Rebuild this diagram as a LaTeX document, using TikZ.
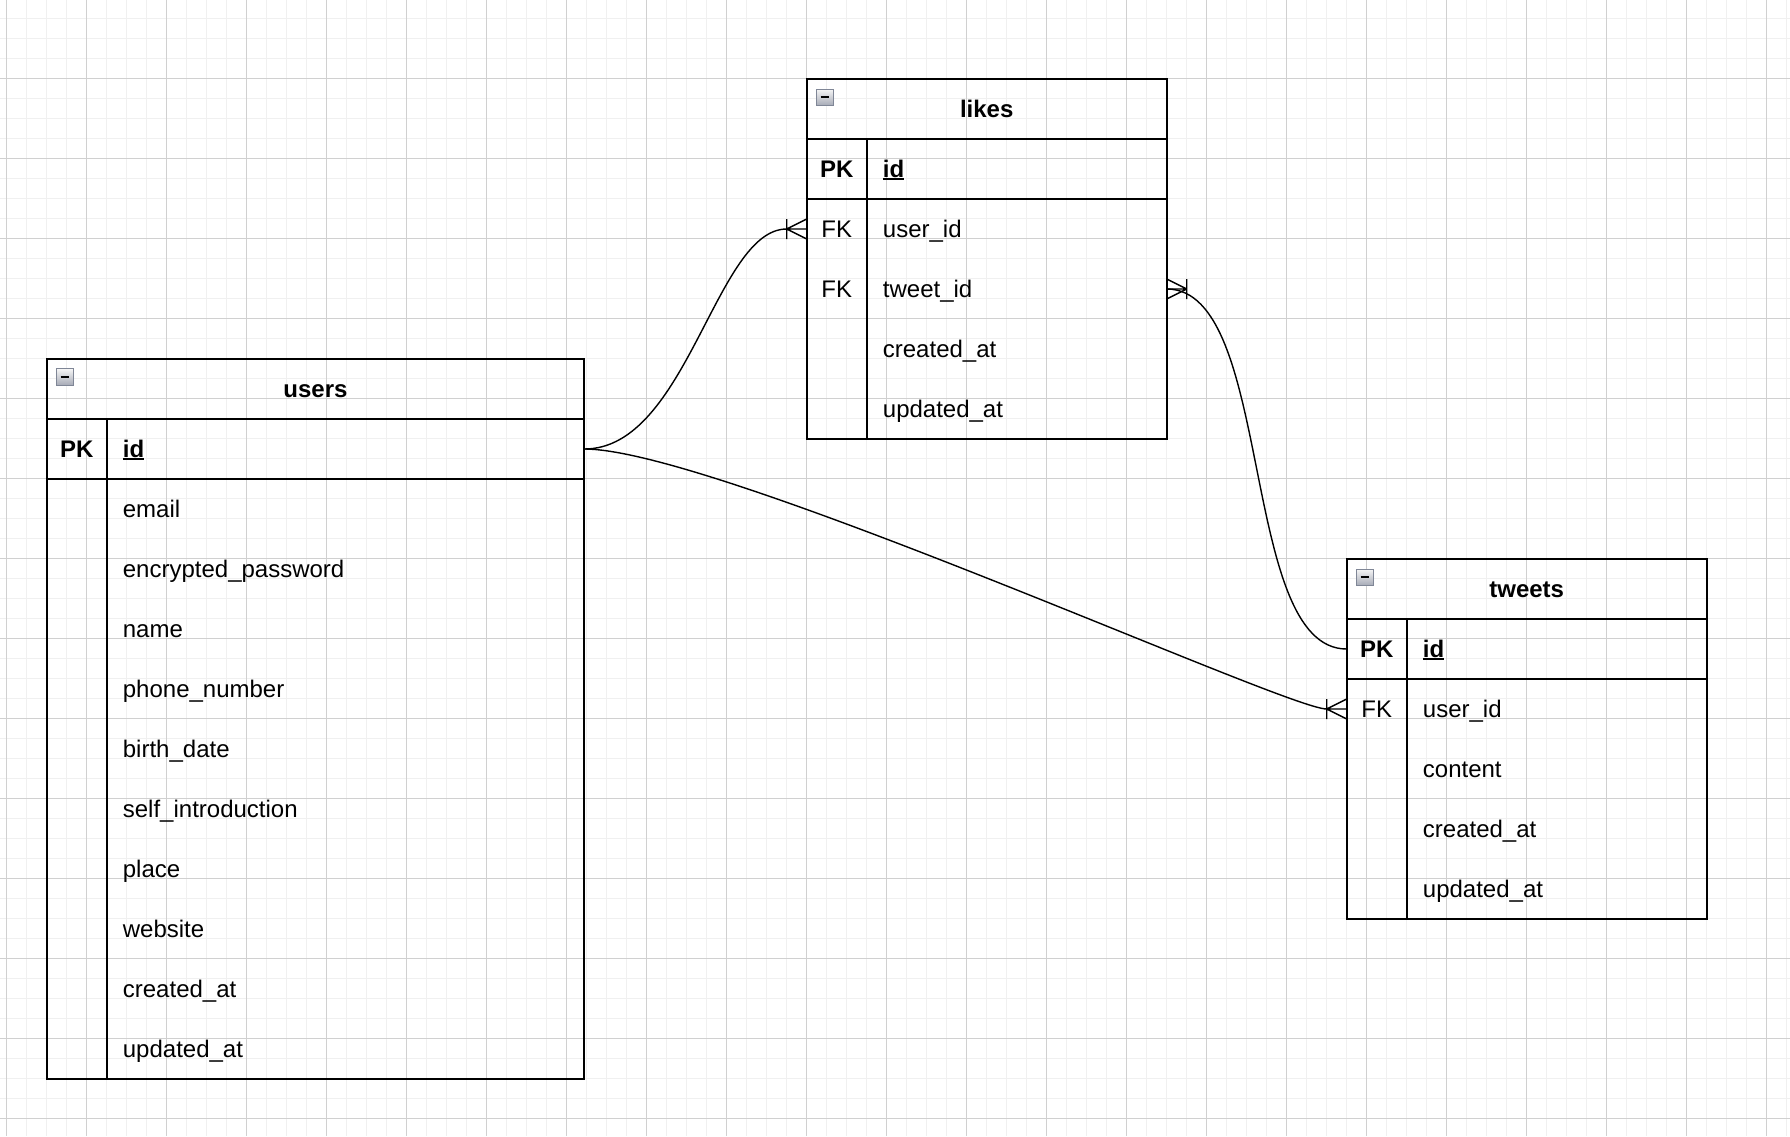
\documentclass[tikz,border=0pt]{standalone}
\usepackage{fontspec}
\setmainfont{Liberation Sans}
\usetikzlibrary{calc}
\definecolor{gridminor}{HTML}{F0F0F0}
\definecolor{gridmajor}{HTML}{D0D0D0}
\definecolor{iconborder}{HTML}{7F8696}
\definecolor{icontop}{HTML}{F6F6F6}
\definecolor{iconbot}{HTML}{A6AAB6}
\newcommand\keyul[1]{\setbox0\hbox{#1}\rlap{\rule[-3pt]{\wd0}{1.9pt}}\box0}
\newcommand\crowsfoot[2]{%
  \draw[rel] ($(#1)+(#2,0)$) -- ($(#1)+(0,-10)$)
             ($(#1)+(#2,0)$) -- (#1)
             ($(#1)+(#2,0)$) -- ($(#1)+(0,10)$)
             ($(#1)+(#2,-10)$) -- ($(#1)+(#2,10)$);}
\newcommand\collapseicon[2]{%
  \shade[top color=icontop, bottom color=iconbot, draw=iconborder, line width=1pt]
    (#1,#2) rectangle +(16.5,16.5);
  \draw[line width=1.9pt] ($(#1,#2)+(4,8.25)$) -- ($(#1,#2)+(12.5,8.25)$);}
\begin{document}
\begin{tikzpicture}[x=1pt,y=-1pt,
  frame/.style={draw=black, line width=2pt, inner sep=0pt, outer sep=0pt, anchor=north west, minimum width=#1},
  sepline/.style={draw=black, line width=2pt},
  rowarea/.style={minimum width=#1, minimum height=60pt, inner sep=0pt, outer sep=0pt, anchor=north west},
  txt/.style={inner sep=0pt, yshift=-5.6pt, font=\fontsize{24}{28}\selectfont},
  fld/.style={txt, anchor=mid west},
  keylbl/.style={txt, anchor=mid},
  keyfld/.style={txt, anchor=mid west, font=\fontsize{24}{28}\selectfont\bfseries},
  pklbl/.style={txt, anchor=mid, font=\fontsize{24}{28}\selectfont\bfseries},
  ttl/.style={txt, anchor=mid, font=\fontsize{24}{28}\selectfont\bfseries},
  rel/.style={draw=black, line width=1.4pt},
  ]
% background and bounding box
\fill[white] (0,0) rectangle (1790,1136);
\useasboundingbox (0,0) rectangle (1790,1136);
% grid
\foreach \gx in {6.7,26.7,...,1790} \draw[gridminor, line width=1.3pt] (\gx,0) -- (\gx,1136);
\foreach \gy in {18.3,38.3,...,1136} \draw[gridminor, line width=1.3pt] (0,\gy) -- (1790,\gy);
\foreach \gx in {6.7,86.7,...,1790} \draw[gridmajor, line width=0.9pt] (\gx,0) -- (\gx,1136);
\foreach \gy in {78.3,158.3,...,1136} \draw[gridmajor, line width=0.9pt] (0,\gy) -- (1790,\gy);

% ================= users =================
\node[frame=537.6pt, minimum height=720pt] (users) at (46.7,359) {};
\draw[sepline] (46.7,419) -- (584.3,419) (46.7,479) -- (584.3,479) (106.7,419) -- (106.7,1079);
\collapseicon{56.7}{368.7}
\node[ttl] (users-title) at (315.5,389) {users};
\node[rowarea=537.6pt] (users-pk) at (46.7,419) {};
\node[pklbl] (users-pk-k) at (76.7,449) {PK};
\node[keyfld] (users-pk-n) at (122.7,449) {\keyul{id}};
\foreach \t [count=\i] in {email,encrypted\_password,name,phone\_number,birth\_date,self\_introduction,place,website,created\_at,updated\_at}{
  \node[rowarea=537.6pt] (users-f\i) at (46.7,{479+60*(\i-1)}) {};
  \node[fld] (users-t\i) at (122.7,{509+60*(\i-1)}) {\t};
}

% ================= likes =================
\node[frame=360pt, minimum height=360pt] (likes) at (806.7,79) {};
\draw[sepline] (806.7,139) -- (1166.7,139) (806.7,199) -- (1166.7,199) (866.7,139) -- (866.7,439);
\collapseicon{816.7}{89}
\node[ttl] (likes-title) at (986.7,109) {likes};
\node[rowarea=360pt] (likes-pk) at (806.7,139) {};
\node[pklbl] (likes-pk-k) at (836.7,169) {PK};
\node[keyfld] (likes-pk-n) at (882.7,169) {\keyul{id}};
\foreach \t/\k [count=\i] in {user\_id/FK,tweet\_id/FK,created\_at/,updated\_at/}{
  \node[rowarea=360pt] (likes-f\i) at (806.7,{199+60*(\i-1)}) {};
  \node[keylbl] (likes-k\i) at (836.7,{229+60*(\i-1)}) {\k};
  \node[fld] (likes-t\i) at (882.7,{229+60*(\i-1)}) {\t};
}

% ================= tweets =================
\node[frame=360pt, minimum height=360pt] (tweets) at (1346.7,559) {};
\draw[sepline] (1346.7,619) -- (1706.7,619) (1346.7,679) -- (1706.7,679) (1406.7,619) -- (1406.7,919);
\collapseicon{1356.7}{569}
\node[ttl] (tweets-title) at (1526.7,589) {tweets};
\node[rowarea=360pt] (tweets-pk) at (1346.7,619) {};
\node[pklbl] (tweets-pk-k) at (1376.7,649) {PK};
\node[keyfld] (tweets-pk-n) at (1422.7,649) {\keyul{id}};
\foreach \t/\k [count=\i] in {user\_id/FK,content/,created\_at/,updated\_at/}{
  \node[rowarea=360pt] (tweets-f\i) at (1346.7,{679+60*(\i-1)}) {};
  \node[keylbl] (tweets-k\i) at (1376.7,{709+60*(\i-1)}) {\k};
  \node[fld] (tweets-t\i) at (1422.7,{709+60*(\i-1)}) {\t};
}

% ================= relations =================
\draw[rel] (users-pk.east) .. controls +(103,0) and +(-71,0) .. ($(likes-f1.west)+(-20,0)$);
\crowsfoot{likes-f1.west}{-20}
\draw[rel] (users-pk.east) .. controls +(131,0) and +(-41,0) .. ($(tweets-f1.west)+(-20,0)$);
\crowsfoot{tweets-f1.west}{-20}
\draw[rel] (likes-f2.east) .. controls +(108,0) and +(-108,0) .. (tweets-pk.west);
\crowsfoot{likes-f2.east}{20}
\end{tikzpicture}
\end{document}
